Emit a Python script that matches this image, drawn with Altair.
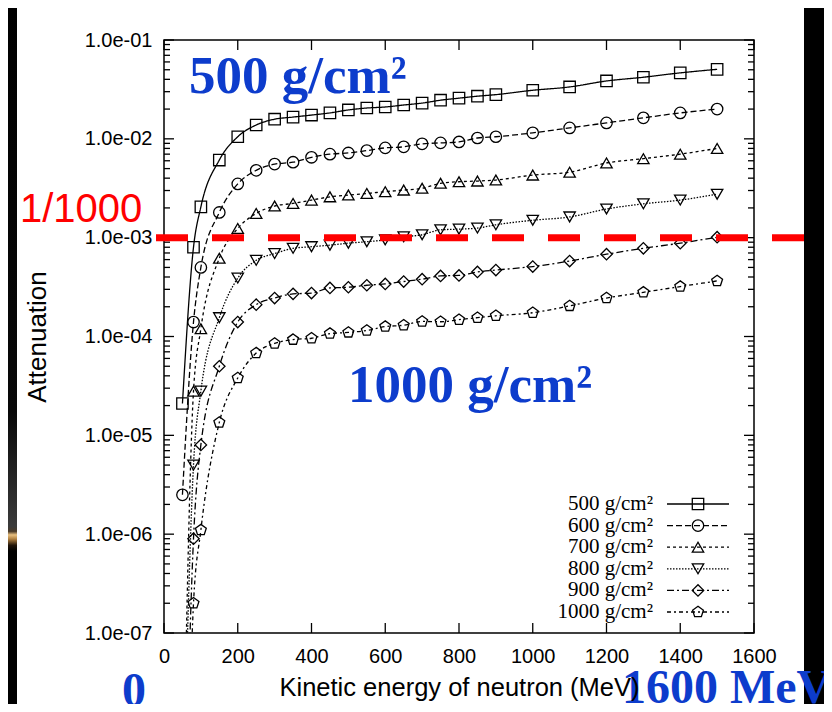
import altair as alt
import pandas as pd

# ---------------- data ----------------
energy = [50, 80, 100, 150, 200, 250, 300, 350, 400, 450, 500, 550, 600, 650,
          700, 750, 800, 850, 900, 1000, 1100, 1200, 1300, 1400, 1500]

s500 = [2.1e-5, 8.0e-4, 2.05e-3, 6.1e-3, 1.05e-2, 1.38e-2, 1.58e-2, 1.66e-2, 1.74e-2,
        1.83e-2, 1.96e-2, 2.05e-2, 2.1e-2, 2.2e-2, 2.3e-2, 2.46e-2, 2.58e-2, 2.7e-2,
        2.8e-2, 3.1e-2, 3.35e-2, 3.85e-2, 4.2e-2, 4.65e-2, 5.05e-2]
s600 = [2.5e-6, 1.4e-4, 5.0e-4, 1.8e-3, 3.5e-3, 4.8e-3, 5.55e-3, 5.8e-3, 6.5e-3,
        7.0e-3, 7.2e-3, 7.6e-3, 8.1e-3, 8.3e-3, 8.9e-3, 9.1e-3, 9.3e-3, 1.02e-2,
        1.05e-2, 1.15e-2, 1.29e-2, 1.45e-2, 1.63e-2, 1.83e-2, 2.0e-2]
s700 = [1e-9, 2.8e-5, 1.2e-4, 6.2e-4, 1.24e-3, 1.76e-3, 2.09e-3, 2.22e-3, 2.4e-3,
        2.59e-3, 2.7e-3, 2.8e-3, 2.92e-3, 3.03e-3, 3.16e-3, 3.55e-3, 3.68e-3, 3.74e-3,
        3.83e-3, 4.3e-3, 4.6e-3, 5.7e-3, 6.3e-3, 7.0e-3, 8.0e-3]
s800 = [1e-9, 5.0e-6, 2.8e-5, 1.55e-4, 3.9e-4, 5.9e-4, 6.9e-4, 7.8e-4, 8.1e-4,
        8.4e-4, 8.8e-4, 9.1e-4, 9.5e-4, 1.02e-3, 1.07e-3, 1.2e-3, 1.22e-3, 1.25e-3,
        1.35e-3, 1.5e-3, 1.62e-3, 1.95e-3, 2.2e-3, 2.4e-3, 2.75e-3]
s900 = [1e-10, 9e-7, 8e-6, 5e-5, 1.4e-4, 2.1e-4, 2.45e-4, 2.7e-4, 2.75e-4,
        3.1e-4, 3.15e-4, 3.3e-4, 3.4e-4, 3.6e-4, 3.8e-4, 4.1e-4, 4.15e-4, 4.5e-4,
        4.7e-4, 5.1e-4, 5.8e-4, 6.8e-4, 7.8e-4, 8.8e-4, 1.01e-3]
s1000 = [1e-11, 2e-7, 1.1e-6, 1.35e-5, 3.8e-5, 6.8e-5, 8.5e-5, 9.3e-5, 9.6e-5,
         1.07e-4, 1.1e-4, 1.15e-4, 1.26e-4, 1.3e-4, 1.42e-4, 1.41e-4, 1.48e-4, 1.55e-4,
         1.62e-4, 1.74e-4, 2.04e-4, 2.45e-4, 2.8e-4, 3.2e-4, 3.65e-4]

series_names = ["500 g/cm²", "600 g/cm²", "700 g/cm²", "800 g/cm²", "900 g/cm²", "1000 g/cm²"]
series_values = [s500, s600, s700, s800, s900, s1000]

x_ticks = [0, 200, 400, 600, 800, 1000, 1200, 1400, 1600]
y_ticks = [1e-7, 1e-6, 1e-5, 1e-4, 1e-3, 1e-2, 1e-1]
y_minor = [k * d for d in [1e-7, 1e-6, 1e-5, 1e-4, 1e-3, 1e-2] for k in range(2, 10)]
threshold = [1e-3]

x_title = "Kinetic energy of neutron (MeV)"
y_title = "Attenuation"
ann_500 = ["500 g/cm²"]
ann_1000 = ["1000 g/cm²"]
ann_ratio = ["1/1000"]
ann_zero = ["0"]
ann_max = ["1600 MeV"]

# ---------------- styles ----------------
pentagon = "M0,-1L0.951,-0.309L0.588,0.809L-0.588,0.809L-0.951,-0.309Z"
shapes = ["square", "circle", "triangle-up", "triangle-down", "diamond", pentagon]
dashes = [[1, 0], [6, 3], [3, 3], [1.5, 1.5], [7, 3, 2, 3], [4, 3, 2, 3]]
BLUE = "#0d3ccc"

rows = []
for name, vals in zip(series_names, series_values):
    for e, v in zip(energy, vals):
        rows.append({"series": name, "E": e, "A": v})
df = pd.DataFrame(rows)

W, H = 590, 593

xscale = alt.Scale(domain=[0, 1600], nice=False, zero=False)
yscale = alt.Scale(type="log", domain=[1e-7, 1e-1], nice=False)

xaxis = alt.Axis(values=x_ticks, format="d", ticks=False, domain=False, grid=False,
                 labelFont="Liberation Sans", labelFontSize=20, labelColor="black",
                 labelPadding=13, labelFlush=False, labelBound=False,
                 title=x_title, titleFont="Liberation Sans", titleFontSize=25.5,
                 titleFontWeight="normal", titleColor="black", titleY=62,
                 titleBaseline="alphabetic", zindex=1)
yaxis = alt.Axis(values=y_ticks, ticks=False, domain=False, grid=False,
                 labelExpr="'1.0e-0' + round(-log(datum.value)/LN10)",
                 labelFont="Liberation Sans", labelFontSize=20, labelColor="black",
                 labelPadding=12, labelOverlap=False,
                 title=y_title, titleFont="Liberation Sans", titleFontSize=26,
                 titleFontWeight="normal", titleColor="black", titleX=-119,
                 titleBaseline="alphabetic", zindex=1)

shape_enc = alt.Shape("series:N", scale=alt.Scale(domain=series_names, range=shapes), legend=None)
dash_enc = alt.StrokeDash("series:N", scale=alt.Scale(domain=series_names, range=dashes), legend=None)

lines = alt.Chart(df).mark_line(interpolate="monotone", clip=True, color="black",
                                strokeWidth=1.3).encode(
    x=alt.X("E:Q", scale=xscale, axis=xaxis),
    y=alt.Y("A:Q", scale=yscale, axis=yaxis),
    detail="series:N",
    strokeDash=dash_enc,
    order="E:Q",
)

points = alt.Chart(df).mark_point(filled=False, clip=True, color="black", opacity=1,
                                  strokeWidth=1.3, size=130).encode(
    x=alt.X("E:Q", scale=xscale),
    y=alt.Y("A:Q", scale=yscale),
    shape=shape_enc,
)

# inward ticks (major / minor) on all four sides
ymaj = pd.DataFrame({"A": y_ticks})
ymin = pd.DataFrame({"A": y_minor})
xmaj = pd.DataFrame({"E": x_ticks})

def yrule(data, x0, x1):
    return alt.Chart(data).mark_rule(color="black", strokeWidth=1.3).encode(
        y=alt.Y("A:Q", scale=yscale), x=alt.value(x0), x2=alt.value(x1))

def xrule(data, y0, y1):
    return alt.Chart(data).mark_rule(color="black", strokeWidth=1.3).encode(
        x=alt.X("E:Q", scale=xscale), y=alt.value(y0), y2=alt.value(y1))

ticks = [
    yrule(ymaj, 0, 10), yrule(ymaj, W - 10, W),
    yrule(ymin, 0, 6), yrule(ymin, W - 6, W),
    xrule(xmaj, 0, 10), xrule(xmaj, H - 10, H),
]

# red 1/1000 threshold
red_line = alt.Chart(pd.DataFrame({"A": threshold})).mark_rule(
    color="#ff0000", strokeWidth=7, strokeDash=[32, 24]).encode(
    y=alt.Y("A:Q", scale=yscale), x=alt.value(-8), x2=alt.value(640))

# slide decoration: dark strips at left / right
grad = alt.LinearGradient(
    gradient="linear", x1=0, y1=0, x2=0, y2=1,
    stops=[
        alt.GradientStop(offset=0, color="#000000"),
        alt.GradientStop(offset=0.58, color="#080808"),
        alt.GradientStop(offset=0.745, color="#3a3a3a"),
        alt.GradientStop(offset=0.752, color="#4a3a28"),
        alt.GradientStop(offset=0.757, color="#e8c080"),
        alt.GradientStop(offset=0.763, color="#b08040"),
        alt.GradientStop(offset=0.772, color="#201408"),
        alt.GradientStop(offset=0.78, color="#000000"),
        alt.GradientStop(offset=1, color="#000000"),
    ])
one = pd.DataFrame({"k": [0]})
left_strip = alt.Chart(one).mark_rect(fill=grad).encode(
    x=alt.value(-156), x2=alt.value(-147), y=alt.value(-32), y2=alt.value(664))
right_strip = alt.Chart(one).mark_rect(color="black").encode(
    x=alt.value(640), x2=alt.value(700), y=alt.value(-32), y2=alt.value(664))

def label(text, x, y, color, font, size, weight="normal", align="left"):
    return alt.Chart(pd.DataFrame({"label": text})).mark_text(
        font=font, fontSize=size, fontWeight=weight, color=color,
        align=align, baseline="alphabetic").encode(
        x=alt.value(x), y=alt.value(y), text="label:N")

texts = [
    label(ann_500, 25, 53, BLUE, "Liberation Serif", 53, "bold"),
    label(ann_1000, 184, 362, BLUE, "Liberation Serif", 53, "bold"),
    label(ann_ratio, -144, 182, "#ff0000", "Liberation Sans", 40),
    label(ann_zero, -30, 666, BLUE, "Liberation Serif", 48, "bold", "center"),
    label(ann_max, 458, 663, BLUE, "Liberation Serif", 48, "bold"),
]

main = alt.layer(lines, points, *ticks, red_line, left_strip, right_strip)

# legend (own point scale for rows)
leg_df = pd.DataFrame({"series": series_names})
leg_y = alt.Y("series:N", scale=alt.Scale(type="point", domain=series_names,
                                          range=[464, 572], padding=0), axis=None)
leg_text = alt.Chart(leg_df).mark_text(font="Liberation Serif", fontSize=21, color="black",
                                       align="right", baseline="middle").encode(
    x=alt.value(489), y=leg_y, text="series:N")
leg_line = alt.Chart(leg_df).mark_rule(color="black", strokeWidth=1.3).encode(
    x=alt.value(503), x2=alt.value(565), y=leg_y, strokeDash=dash_enc)
leg_pt = alt.Chart(leg_df).mark_point(filled=False, color="black", opacity=1,
                                      strokeWidth=1.3, size=130).encode(
    x=alt.value(534), y=leg_y, shape=shape_enc)
legend = alt.layer(leg_line, leg_pt, leg_text)

chart = alt.layer(main, legend, *texts).resolve_scale(y="independent").properties(
    width=W, height=H,
    autosize=alt.AutoSizeParams(type="none"),
    padding={"left": 156, "top": 32, "right": 70, "bottom": 71},
    background="white",
).configure_view(stroke="black", strokeWidth=1.5)

chart.save("out.html", embed_options={"renderer": "svg", "actions": False})
